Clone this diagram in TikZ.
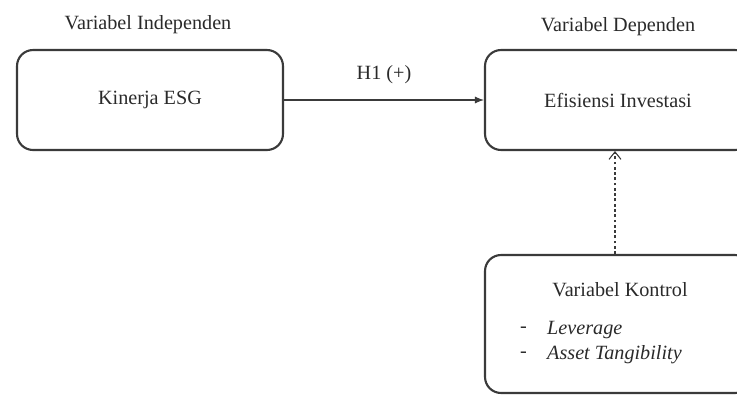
\documentclass[tikz,border=0pt]{standalone}
\usepackage{fontspec}
\setmainfont{Liberation Serif}
\usetikzlibrary{positioning,arrows.meta}
\definecolor{boxgray}{HTML}{3a3a3a}
\definecolor{textgray}{HTML}{2a2a2a}
\tikzset{
  varbox/.style={draw=boxgray, line width=1.2pt, rounded corners=3.2mm, minimum width=5.32cm, minimum height=2cm, align=center},
  headlabel/.style={text=textgray},
  mainarrow/.style={draw=boxgray, line width=0.6pt, -{Latex[length=1.8mm,width=1.4mm]}},
  ctrlarrow/.style={draw=boxgray, line width=0.6pt, dashed, dash pattern=on 1.6pt off 1.4pt, -{Straight Barb[length=1.5mm,width=2.4mm]}}
}
\begin{document}
\begin{tikzpicture}[x=0.02cm, y=-0.02cm, font=\fontsize{11.5}{14}\selectfont, text=textgray]
        \useasboundingbox (0,0) rectangle (737,396);

        % Headings
        \node[headlabel] (indeplabel) at (148,25) {Variabel Independen};
        \node[headlabel] (deplabel) at (618,27) {Variabel Dependen};

        % Boxes
        \node[varbox] (esg) at (150,100) {Kinerja ESG};
        \node[varbox] (efisiensi) at (618,100) {Efisiensi Investasi};
        \node[varbox, minimum height=2.76cm] (kontrol) at (618,324) {};

        % Control box contents
        \node (kontroltitle) at (620,290) {Variabel Kontrol};
        \node[anchor=west] (dashone) at (514,330) {-};
        \node[anchor=west] (leverage) at (541,330) {\textit{Leverage}};
        \node[anchor=west] (dashtwo) at (514,355) {-};
        \node[anchor=west] (tangibility) at (541,355) {\textit{Asset Tangibility}};

        % Arrows
        \draw[mainarrow] (esg) -- (efisiensi) node[midway, above=0.2cm] (hone) {H1 (+)};
        \draw[ctrlarrow] (kontrol.north -| 615,0) -- (efisiensi.south -| 615,0);
\end{tikzpicture}
\end{document}
